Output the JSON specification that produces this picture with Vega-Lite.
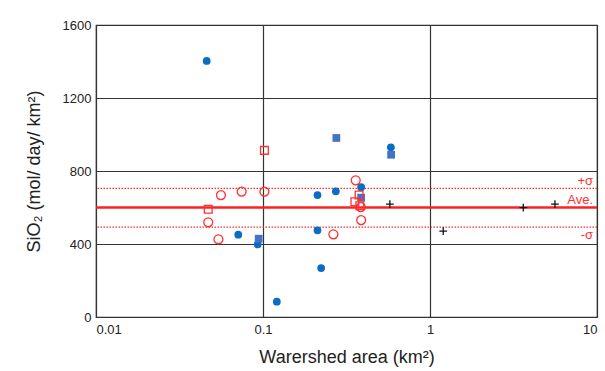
{
  "$schema": "https://vega.github.io/schema/vega-lite/v6.json",
  "width": 501,
  "height": 292,
  "autosize": {"type": "none"},
  "padding": {"left": 96, "top": 25, "right": 8, "bottom": 54},
  "background": "white",
  "config": {
    "view": {"stroke": "#333333", "strokeWidth": 1.2},
    "font": "Liberation Sans",
    "axis": {"labelFont": "Liberation Sans", "titleFont": "Liberation Sans", "labelColor": "#222", "titleColor": "#222", "titleFontWeight": "normal", "domain": false, "ticks": false, "gridColor": "#333333", "gridWidth": 1.2, "gridOpacity": 1}
  },
  "datasets": {
    "pts": [
      {"area": 0.046, "sio2": 1403, "type": "A"},
      {"area": 0.583, "sio2": 930, "type": "A"},
      {"area": 0.387, "sio2": 711, "type": "A"},
      {"area": 0.212, "sio2": 668, "type": "A"},
      {"area": 0.273, "sio2": 689, "type": "A"},
      {"area": 0.0711, "sio2": 451, "type": "A"},
      {"area": 0.093, "sio2": 398, "type": "A"},
      {"area": 0.212, "sio2": 475, "type": "A"},
      {"area": 0.223, "sio2": 268, "type": "A"},
      {"area": 0.121, "sio2": 84, "type": "A"},
      {"area": 0.275, "sio2": 981, "type": "B"},
      {"area": 0.585, "sio2": 889, "type": "B"},
      {"area": 0.387, "sio2": 654, "type": "B"},
      {"area": 0.0942, "sio2": 429, "type": "B"},
      {"area": 0.359, "sio2": 749, "type": "C"},
      {"area": 0.056, "sio2": 668, "type": "C"},
      {"area": 0.0745, "sio2": 687, "type": "C"},
      {"area": 0.102, "sio2": 687, "type": "C"},
      {"area": 0.385, "sio2": 602, "type": "C"},
      {"area": 0.047, "sio2": 519, "type": "C"},
      {"area": 0.387, "sio2": 531, "type": "C"},
      {"area": 0.0541, "sio2": 426, "type": "C"},
      {"area": 0.264, "sio2": 453, "type": "C"},
      {"area": 0.102, "sio2": 913, "type": "D"},
      {"area": 0.376, "sio2": 668, "type": "D"},
      {"area": 0.355, "sio2": 632, "type": "D"},
      {"area": 0.38, "sio2": 610, "type": "D"},
      {"area": 0.047, "sio2": 590, "type": "D"},
      {"area": 0.575, "sio2": 619, "type": "E"},
      {"area": 1.2, "sio2": 471, "type": "E"},
      {"area": 3.62, "sio2": 599, "type": "E"},
      {"area": 5.6, "sio2": 619, "type": "E"}
    ],
    "lines": [
      {"val": 600, "kind": "Ave.", "label": "Ave.", "ly": 640},
      {"val": 705, "kind": "+σ", "label": "+σ", "ly": 745},
      {"val": 493, "kind": "-σ", "label": "-σ", "ly": 450}
    ]
  },
  "layer": [
    {
      "data": {"name": "lines"},
      "transform": [{"filter": "datum.kind !== 'Ave.'"}],
      "mark": {"type": "rule", "color": "#ff2a2a", "strokeWidth": 1.3, "strokeDash": [1.5, 1.5]},
      "encoding": {
        "y": {"field": "val", "type": "quantitative", "scale": {"domain": [0, 1600]}}
      }
    },
    {
      "data": {"name": "lines"},
      "transform": [{"filter": "datum.kind === 'Ave.'"}],
      "mark": {"type": "rule", "color": "#ff2020", "strokeWidth": 2.5},
      "encoding": {
        "y": {"field": "val", "type": "quantitative"}
      }
    },
    {
      "data": {"name": "pts"},
      "transform": [{"filter": "datum.type === 'A'"}],
      "mark": {"type": "point", "shape": "circle", "filled": true, "color": "#0a6cc4", "size": 60, "opacity": 1},
      "encoding": {
        "x": {"field": "area", "type": "quantitative", "scale": {"type": "log", "domain": [0.01, 10]},
          "axis": {"values": [0.01, 0.1, 1, 10], "format": "~g", "labelFontSize": 13, "labelPadding": 6, "title": "Warershed area (km²)", "titleFontSize": 18, "titlePadding": 12, "grid": true}},
        "y": {"field": "sio2", "type": "quantitative", "scale": {"domain": [0, 1600]},
          "axis": {"values": [0, 400, 800, 1200, 1600], "format": "d", "labelFontSize": 13, "labelPadding": 5, "title": "SiO₂ (mol/ day/ km²)", "titleFontSize": 18, "titlePadding": 19, "grid": true}}
      }
    },
    {
      "data": {"name": "pts"},
      "transform": [{"filter": "datum.type === 'B'"}],
      "mark": {"type": "point", "shape": "square", "filled": true, "color": "#4472c4", "size": 60, "opacity": 1},
      "encoding": {
        "x": {"field": "area", "type": "quantitative"},
        "y": {"field": "sio2", "type": "quantitative"}
      }
    },
    {
      "data": {"name": "pts"},
      "transform": [{"filter": "datum.type === 'C'"}],
      "mark": {"type": "point", "shape": "circle", "filled": false, "color": "#ff3030", "size": 80, "strokeWidth": 1.3, "opacity": 1},
      "encoding": {
        "x": {"field": "area", "type": "quantitative"},
        "y": {"field": "sio2", "type": "quantitative"}
      }
    },
    {
      "data": {"name": "pts"},
      "transform": [{"filter": "datum.type === 'D'"}],
      "mark": {"type": "point", "shape": "square", "filled": false, "color": "#ff3030", "size": 60, "strokeWidth": 1.3, "opacity": 1},
      "encoding": {
        "x": {"field": "area", "type": "quantitative"},
        "y": {"field": "sio2", "type": "quantitative"}
      }
    },
    {
      "data": {"name": "pts"},
      "transform": [{"filter": "datum.type === 'E'"}],
      "mark": {"type": "point", "shape": "M-1,0L1,0M0,-1L0,1", "filled": false, "color": "#111111", "size": 60, "strokeWidth": 1.3, "opacity": 1},
      "encoding": {
        "x": {"field": "area", "type": "quantitative"},
        "y": {"field": "sio2", "type": "quantitative"}
      }
    },
    {
      "data": {"name": "lines"},
      "mark": {"type": "text", "color": "#ff3030", "align": "right", "baseline": "middle", "fontSize": 13, "dx": -4},
      "encoding": {
        "x": {"datum": 10, "type": "quantitative"},
        "y": {"field": "ly", "type": "quantitative"},
        "text": {"field": "label"}
      }
    }
  ]
}
